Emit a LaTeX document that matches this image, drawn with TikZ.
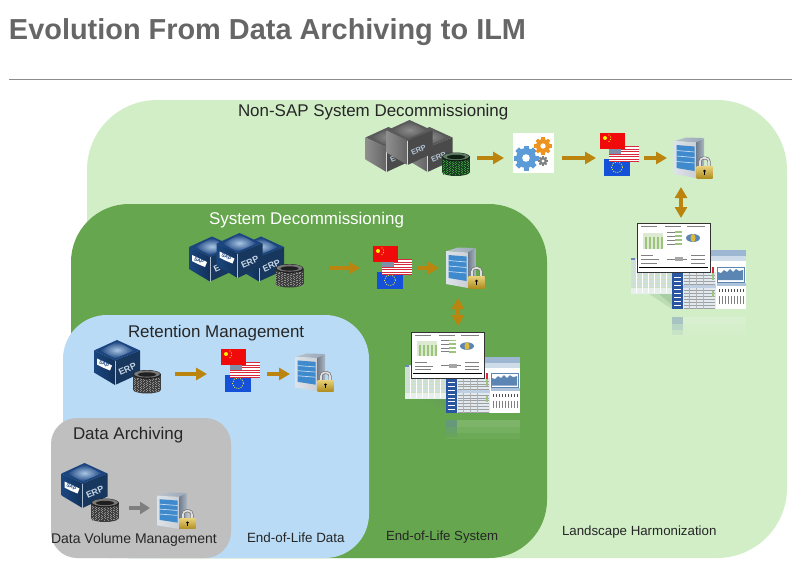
\documentclass[tikz,border=0pt]{standalone}
\usepackage{fontspec}
\setmainfont{Liberation Sans}
\usetikzlibrary{arrows.meta}
\definecolor{titlegray}{HTML}{666666}
\definecolor{rulegray}{HTML}{8C8C8C}
\definecolor{regA}{HTML}{D1EEC7}
\definecolor{regB}{HTML}{66A64E}
\definecolor{regC}{HTML}{B9DBF5}
\definecolor{regD}{HTML}{BFBFBF}
\definecolor{goldarrow}{HTML}{BB840E}
\definecolor{grayarrow}{HTML}{7F7F7F}
\definecolor{cubeTopD}{HTML}{1C4580}
\definecolor{cubeTopL}{HTML}{A9C6E4}
\definecolor{cubeLeft}{HTML}{1A4680}
\definecolor{cubeRight}{HTML}{17375F}
\definecolor{cubeText}{HTML}{C8D6E6}
\definecolor{gcubeTopD}{HTML}{5A5A5A}
\definecolor{gcubeTopL}{HTML}{8C8C8C}
\definecolor{gcubeLeft}{HTML}{8E8E8E}
\definecolor{gcubeRight}{HTML}{4A4A4A}
\definecolor{gcubeText}{HTML}{B4C4D4}
\definecolor{dbBody}{HTML}{3E3E3E}
\definecolor{dbSpeck}{HTML}{8E8E8E}
\definecolor{dbBodyG}{HTML}{1B3F22}
\definecolor{dbSpeckG}{HTML}{3C9A3C}
\definecolor{srvPanel}{HTML}{3F8ACC}
\definecolor{srvFront}{HTML}{DDE3EA}
\definecolor{srvTop}{HTML}{9AA8B8}
\definecolor{srvSideD}{HTML}{6F7C8C}
\definecolor{srvSideL}{HTML}{AEB8C4}
\definecolor{lockGold}{HTML}{DDB93C}
\definecolor{lockGoldD}{HTML}{B08E20}
\definecolor{flagRed}{HTML}{F00A0A}
\definecolor{flagBlue}{HTML}{1450D8}
\definecolor{usRed}{HTML}{D8283C}
\definecolor{usBlue}{HTML}{7F8FA8}
\definecolor{sideBlue}{HTML}{2A55A0}
\definecolor{paleSheet}{HTML}{CFE0DC}
\definecolor{chartBlue}{HTML}{5B86B4}
\definecolor{chartGreen}{HTML}{9CC47C}
\definecolor{gearBlue}{HTML}{5B9BD8}
\definecolor{gearOrange}{HTML}{EE9320}
\newcommand{\cubefontsize}{9}
\tikzset{
  lbl/.style={inner sep=0pt,outer sep=0pt,anchor=west,text=#1},
  anchorbox/.style={inner sep=0pt,outer sep=0pt},
  flow/.style={draw=goldarrow,line width=3.2pt,-{Triangle[length=11pt,width=12pt]}},
  flowgray/.style={draw=grayarrow,line width=3.2pt,-{Triangle[length=10pt,width=12pt]}},
  both/.style={draw=goldarrow,line width=3.2pt,{Triangle[length=11pt,width=12pt]}-{Triangle[length=11pt,width=12pt]}},
  pics/erpcube/.style n args={6}{code={
    \fill[#1] (-23,-12) -- (0,-22.5) -- (23,-12) -- (-2,-2) -- cycle;
    \path[shade,inner color=#2,outer color=#1] (-17,-12) -- (0,-21) -- (17,-12) -- (-2,-4) -- cycle;
    \path[left color=#3,right color=#3!70!black] (-23,-12) -- (-2,-2) -- (-2,22.5) -- (-23,10) -- cycle;
    \fill[#4] (-2,-2) -- (23,-12) -- (23,11) -- (-2,22.5) -- cycle;
    \draw[white!65!#3,line width=.5pt] (-2,-2) -- (-2,22.5);
    \node[anchorbox,anchor=west,text=#5,rotate=24,font=\bfseries\fontsize{\cubefontsize}{10}\selectfont] (-erp) at (2,10.5) {#6};
  }},
  pics/saplogo/.style={code={
    \fill[white] (-20,-4) -- (-5,3) -- (-7,8) -- (-13,5.5) -- (-20,2) -- cycle;
    \node[anchorbox,text=cubeLeft,rotate=-24,font=\bfseries\fontsize{5}{5}\selectfont] (-sap) at (-13,1.6) {SAP};
  }},
  pics/dbstack/.style n args={2}{code={
    \fill[#1] (0,8) ellipse (14 and 4);
    \fill[#1] (-14,-7) rectangle (14,8);
    \foreach \sx/\ph in {-13/0,-11.5/1,-10/.5,-8.5/1.6,-7/.2,-5.5/1.2,-4/.7,-2.5/1.8,-1/.3,.5/1.4,2/.9,3.5/.1,5/1.7,6.5/.6,8/1.1,9.5/.4,11/1.5,12.5/.8}{
      \draw[#2,line width=.9pt,dash pattern=on .8pt off 1.5pt,dash phase=\ph pt] (\sx,-4) -- (\sx,10);
    }
    \fill[#1!50!black] (0,-7) ellipse (14 and 4.5);
    \fill[#1!70!white] (0,-7.5) ellipse (13 and 3.6);
    \fill[#1!50!black] (0,-7) ellipse (9 and 2.2);
  }},
  pics/serverlock/.style={code={
    \path[left color=srvTop!70!white,right color=srvTop] (2,4) -- (13,.5) -- (30,1) -- (23,5.5) -- cycle;
    \path[left color=srvFront,right color=srvFront!80!gray] (1,4) -- (23,5.5) -- (23,41) -- (1,37) -- cycle;
    \path[left color=srvSideD,right color=srvSideL] (23,5.5) -- (31,1) -- (31,36) -- (23,41) -- cycle;
    \fill[srvPanel] (3.5,8) -- (21.5,9.5) -- (21.5,34) -- (3.5,31) -- cycle;
    \foreach \sy in {13.5,19,24.5}{
      \draw[white!70!srvPanel,line width=.7pt] (3.5,\sy) -- (21.5,\sy+1.5);
    }
    \draw[black!55,line width=3pt,rounded corners=3.5pt] (27,31) -- (27,21) -- (36,21) -- (36,31);
    \draw[gray!25!white,line width=1.6pt,rounded corners=3.5pt] (27,31) -- (27,21) -- (36,21) -- (36,31);
    \path[top color=lockGold!70!white,bottom color=lockGoldD] (23.5,29.5) rectangle (39.5,41);
    \fill[black] (31.5,34) circle (1.4);
    \fill[black] (30.9,34) rectangle (32.1,38);
  }},
  pics/flagstack/.style={code={
    \fill[flagBlue] (4,25.5) rectangle (30,43);
    \draw[yellow!80!white,line width=.7pt,dash pattern=on 1pt off 1.3pt] (17,34.2) circle (5.5);
    \fill[white] (9,13) rectangle (39,29);
    \foreach \sy in {13,15.5,18,20.5,23,25.5,28}{
      \fill[usRed] (9,\sy) rectangle (39,\sy+1.2);
    }
    \fill[usBlue] (9,13) rectangle (21,21);
    \fill[flagRed] (0,0) rectangle (25,16);
    \fill[yellow] (5,5) circle (2);
    \foreach \sa/\sb in {9/2,10.5/4,10.5/6.5,9/8.5}{\fill[yellow] (\sa,\sb) circle (.55);}
  }},
  pics/cog/.style n args={2}{code={
    \foreach \ga in {0,45,90,135}{
      \fill[#2,rotate=\ga] (-.25*#1,-1.25*#1) rectangle (.25*#1,1.25*#1);
    }
    \fill[#2] (0,0) circle (#1);
    \fill[white] (0,0) circle (.38*#1);
  }},
  pics/dashboard/.style={code={
    % soft shadow
    \fill[gray!80!green,opacity=.18] (12,71) -- (35,71) -- (35,86) -- cycle;
    \fill[gray!80!green,opacity=.22] (22,71) -- (35,71) -- (35,82) -- cycle;
    % left sheet
    \fill[paleSheet] (-6,35) rectangle (35,71);
    \fill[sideBlue!70!white] (-6,35) rectangle (-2,37);
    \fill[paleSheet!50!white] (-6,65) rectangle (35,71);
    \foreach \dy in {40,44,...,64}{\draw[chartGreen!50!white,line width=.5pt] (-5,\dy) -- (34,\dy);}
    \foreach \dx in {-1,5,...,29}{\draw[white,line width=.5pt] (\dx,36) -- (\dx,70);}
    % right sheet
    \fill[white] (35,27) rectangle (109,86);
    \fill[chartBlue!60!white] (35,27) rectangle (109,33);
    \fill[chartBlue!30!white] (73,33) rectangle (109,38);
    \fill[sideBlue] (35,50) rectangle (46,86);
    \fill[chartBlue!40!white] (35,46) rectangle (46,50);
    \foreach \dy in {54,58,...,82}{\draw[white,line width=.6pt] (37,\dy) -- (44,\dy);}
    \fill[chartBlue!18!white] (46,49) rectangle (79,86);
    \foreach \dy in {52,55,...,85}{\draw[gray!75!white,line width=.35pt] (47,\dy) -- (78,\dy);}
    \foreach \dx in {52,59,66}{\draw[gray!60!white,line width=.35pt] (\dx,49) -- (\dx,86);}
    \fill[chartBlue!40!white] (46,62) rectangle (79,65);
    \draw[usRed,line width=1.2pt] (76,44) -- (76,50);
    \draw[chartGreen,line width=1.2pt] (76,50) -- (76,57) (76,68) -- (76,74);
    \fill[chartBlue] (81,57) -- (81,49) -- (84,50) -- (87,47) -- (90,49) -- (93,46) -- (96,49) -- (99,46) -- (102,48) -- (106,47) -- (106,57) -- cycle;
    \draw[chartBlue,line width=.5pt] (80,44) rectangle (107,59);
    \fill[chartBlue!50!white] (80,60) rectangle (109,63);
    \foreach \dx in {82,85,...,106}{
      \draw[black!70,line width=.6pt] (\dx,66) -- (\dx,69);
      \draw[gray,line width=.5pt] (\dx,73) -- (\dx,81);
    }
    % front sheet
    \fill[white] (0,0) rectangle (73,49);
    \fill[chartGreen!35!white] (6,10) rectangle (26,26);
    \foreach \dx in {8,12,16,20,24}{\fill[chartGreen] (\dx,14) rectangle (\dx+1.8,26);}
    \foreach \dy in {9,13,17,21}{
      \draw[gray,line width=.5pt] (30,\dy) -- (38,\dy);
      \draw[chartGreen,line width=1.6pt] (38,\dy) -- (45,\dy);
    }
    \fill[chartBlue] (56,15) ellipse (7 and 4);
    \fill[lockGold] (56,15) ellipse (2.5 and 4);
    \draw[gray,line width=.4pt] (4,3) -- (20,3) (28,3) -- (44,3) (50,3) -- (68,3);
    \draw[gray,line width=.4pt] (4,32) -- (16,32) (4,36) -- (22,36) (4,40) -- (20,40);
    \draw[gray,line width=.8pt] (30,36) -- (50,36);
    \fill[gray!70!white] (38,34) rectangle (46,38);
    \draw[gray,line width=.4pt] (54,32) -- (68,32) (54,36) -- (68,36) (54,40) -- (68,40);
    \draw[black,line width=1.2pt] (2,44.5) -- (71,44.5);
    \draw[black!80,line width=1pt] (0,0) rectangle (73,49);
    % reflection
    \fill[white,opacity=.16] (35,94) rectangle (109,101);
    \fill[white,opacity=.10] (35,101) rectangle (109,107);
    \fill[white,opacity=.05] (35,107) rectangle (109,114);
    \fill[sideBlue,opacity=.28] (35,94) rectangle (46,101);
    \fill[sideBlue,opacity=.16] (35,101) rectangle (46,107);
    \fill[sideBlue,opacity=.07] (35,107) rectangle (46,112);
  }}
}
\begin{document}
\begin{tikzpicture}[x=1pt,y=-1pt]
\useasboundingbox (0,0) rectangle (812,576);
\fill[white] (0,0) rectangle (812,576);
% title
\node[lbl=titlegray,font=\bfseries\fontsize{28.9}{30}\selectfont] (title) at (9,32) {Evolution From Data Archiving to ILM};
\draw[rulegray,line width=.8pt] (9,79) -- (792,79);
% regions
\fill[regA,rounded corners=70pt] (87,100) rectangle (787,558);
\fill[regB,rounded corners=58pt] (71,204) rectangle (547,558);
\fill[regC,rounded corners=44pt] (63,315) rectangle (369,558);
\fill[regD,rounded corners=26pt] (51,418) rectangle (231,558);
% region labels
\node[lbl=black!85,font=\fontsize{16.95}{18}\selectfont] (nonsaplabel) at (238,112) {Non-SAP System Decommissioning};
\node[lbl=white,font=\fontsize{16.95}{18}\selectfont] (syslabel) at (209,220) {System Decommissioning};
\node[lbl=black!85,font=\fontsize{16.95}{18}\selectfont] (retlabel) at (128,333) {Retention Management};
\node[lbl=black!85,font=\fontsize{16.95}{18}\selectfont] (dalabel) at (73,435) {Data Archiving};
\node[lbl=black!85,font=\fontsize{14}{14}\selectfont] (dvmlabel) at (51,540) {Data Volume Management};
\node[lbl=black!85,font=\fontsize{13.4}{14}\selectfont] (eoldlabel) at (247,538) {End-of-Life Data};
\node[lbl=black!85,font=\fontsize{13.2}{14}\selectfont] (eolslabel) at (386,537) {End-of-Life System};
\node[lbl=black!85,font=\fontsize{13.3}{14}\selectfont] (landlabel) at (562,532) {Landscape Harmonization};
% anchor boxes for connectors
\node[anchorbox,minimum width=107pt,minimum height=40pt] (nsSrc) at (423.5,158) {};
\node[anchorbox,minimum width=58pt,minimum height=40pt] (nsGear) at (533,158) {};
\node[anchorbox,minimum width=48pt,minimum height=40pt] (nsFlag) at (620,158) {};
\node[anchorbox,minimum width=28pt,minimum height=58pt] (nsSrv) at (681,158) {};
\node[anchorbox,minimum width=60pt,minimum height=60pt] (nsDash) at (681,248) {};
\node[anchorbox,minimum width=139pt,minimum height=40pt] (sysSrc) at (259.5,268) {};
\node[anchorbox,minimum width=57pt,minimum height=40pt] (sysFlag) at (388.5,268) {};
\node[anchorbox,minimum width=38pt,minimum height=60pt] (sysSrv) at (458,268) {};
\node[anchorbox,minimum width=60pt,minimum height=48pt] (sysDash) at (458,350) {};
\node[anchorbox,minimum width=81pt,minimum height=40pt] (retSrc) at (134.5,374) {};
\node[anchorbox,minimum width=60pt,minimum height=40pt] (retFlag) at (237,374) {};
\node[anchorbox,minimum width=40pt,minimum height=40pt] (retSrv) at (310,374) {};
\node[anchorbox,minimum width=67pt,minimum height=40pt] (daSrc) at (95.5,508) {};
\node[anchorbox,minimum width=40pt,minimum height=40pt] (daSrv) at (170,508) {};
% Non-SAP row
\begin{scope}[xscale=.8]
\def\cubefontsize{7.6}
\pic (gc1) at (485.6,149.5) {erpcube={gcubeTopD}{gcubeTopL}{gcubeLeft}{gcubeRight}{gcubeText}{E}};
\pic (gc3) at (536.9,149.5) {erpcube={gcubeTopD}{gcubeTopL}{gcubeLeft}{gcubeRight}{gcubeText}{ERP}};
\pic (gc2) at (511.9,142.5) {erpcube={gcubeTopD}{gcubeTopL}{gcubeLeft}{gcubeRight}{gcubeText}{ERP}};
\end{scope}
\pic (gdb) at (456,164) {dbstack={dbBodyG}{dbSpeckG}};
\fill[white] (513,133) rectangle (554,173);
\pic (g1) at (526,158) {cog={10}{gearBlue}};
\pic (g2) at (543,146) {cog={7}{gearOrange}};
\pic (g3) at (543,161) {cog={4}{gray}};
\pic (nf) at (600,133) {flagstack};
\pic (ns) at (673,137) {serverlock};
\pic (nd) at (637,223) {dashboard};
% System row
\pic (bc1) at (212,259) {erpcube={cubeTopD}{cubeTopL}{cubeLeft}{cubeRight}{cubeText}{E}};
\pic (bl1) at (212,259) {saplogo};
\pic (bc3) at (261,259) {erpcube={cubeTopD}{cubeTopL}{cubeLeft}{cubeRight}{cubeText}{ERP}};
\pic (bc2) at (239.5,255.5) {erpcube={cubeTopD}{cubeTopL}{cubeLeft}{cubeRight}{cubeText}{ERP}};
\pic (bl2) at (239.5,255.5) {saplogo};
\pic (bdb) at (289.5,275.5) {dbstack={dbBody}{dbSpeck}};
\pic (sf) at (373,246) {flagstack};
\pic (ss) at (445,247) {serverlock};
\pic[yscale=.94] (sd) at (411,332) {dashboard};
% Retention row
\pic (rc) at (117,362.5) {erpcube={cubeTopD}{cubeTopL}{cubeLeft}{cubeRight}{cubeText}{ERP}};
\pic (rl) at (117,362.5) {saplogo};
\pic (rdb) at (147,381.5) {dbstack={dbBody}{dbSpeck}};
\pic (rf) at (221,349) {flagstack};
\pic[yscale=.93] (rs) at (294,353) {serverlock};
% Data Archiving row
\pic (dc) at (84.5,485.5) {erpcube={cubeTopD}{cubeTopL}{cubeLeft}{cubeRight}{cubeText}{ERP}};
\pic (dl) at (84.5,485.5) {saplogo};
\pic (ddb) at (105,510) {dbstack={dbBody}{dbSpeck}};
\pic[yscale=.9] (ds) at (156,492) {serverlock};
% connectors
\draw[flow] (nsSrc.east) -- (nsGear.west);
\draw[flow] (nsGear.east) -- (nsFlag.west);
\draw[flow] (nsFlag.east) -- (nsSrv.west);
\draw[both] (nsSrv.south) -- (nsDash.north);
\draw[flow] (sysSrc.east) -- (sysFlag.west);
\draw[flow] (sysFlag.east) -- (sysSrv.west);
\draw[both] (sysSrv.south) -- (sysDash.north);
\draw[flow] (retSrc.east) -- (retFlag.west);
\draw[flow] (retFlag.east) -- (retSrv.west);
\draw[flowgray] (daSrc.east) -- (daSrv.west);
\end{tikzpicture}
\end{document}
